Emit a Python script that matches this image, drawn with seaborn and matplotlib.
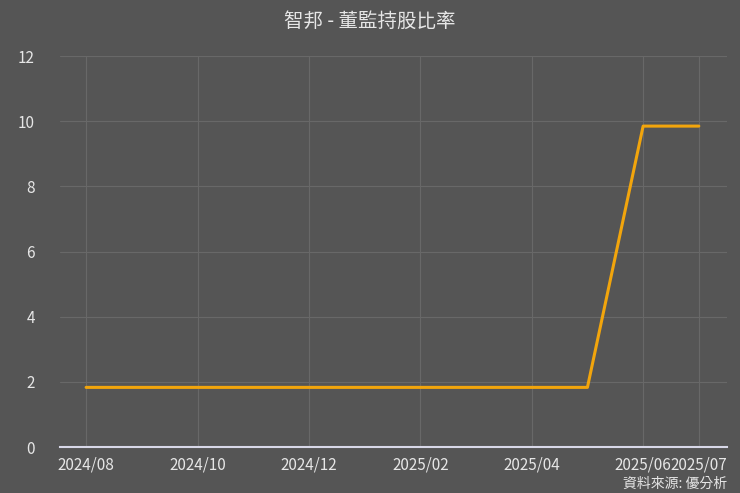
import matplotlib
matplotlib.use("Agg")
import matplotlib.pyplot as plt
import seaborn as sns
import pandas as pd

# monthly data, 2024/08 .. 2025/07
months = ["2024/08", "2024/09", "2024/10", "2024/11", "2024/12", "2025/01",
          "2025/02", "2025/03", "2025/04", "2025/05", "2025/06", "2025/07"]
ratio = [1.83, 1.83, 1.83, 1.83, 1.83, 1.83,
         1.83, 1.83, 1.83, 1.83, 9.85, 9.85]
tick_labels = ["2024/08", "2024/10", "2024/12", "2025/02", "2025/04", "2025/06", "2025/07"]

bg = "#555555"
grid_c = "#686868"
text_c = "#e6e6e6"

sns.set_style("dark")
plt.rcParams['font.family'] = ['Noto Sans CJK TC', 'DejaVu Sans']

df = pd.DataFrame({"month": months, "ratio": ratio})
df["pos"] = range(len(df))

fig = plt.figure(figsize=(7.4, 4.93), dpi=100, facecolor=bg)
ax = fig.add_axes([0.081, 0.0933, 0.901, 0.793])
ax.set_facecolor(bg)

sns.lineplot(data=df, x="pos", y="ratio", ax=ax, color="#f2a50c", linewidth=2.2)

tick_pos = [months.index(t) for t in tick_labels]
ax.set_xticks(tick_pos)
ax.set_xticklabels(tick_labels)
ax.set_xlim(-0.47, 11.5)
ax.set_ylim(0, 12)
ax.set_yticks(range(0, 13, 2))

ax.grid(True, color=grid_c, linewidth=0.8)
ax.set_axisbelow(True)
for s in ["top", "right", "left"]:
    ax.spines[s].set_visible(False)
ax.spines["bottom"].set_color("#d8d8e8")
ax.spines["bottom"].set_linewidth(1.5)

ax.tick_params(axis="both", colors=text_c, labelsize=11, length=0)
ax.tick_params(axis="x", pad=7)
ax.tick_params(axis="y", pad=18)
ax.set_xlabel("")
ax.set_ylabel("")

fig.suptitle("智邦 - 董監持股比率", color=text_c, fontsize=14, y=0.978)
fig.text(0.982, 0.005, "資料來源: 優分析", color=text_c, fontsize=10, ha="right", va="bottom")

fig.savefig("out.png", dpi=100, facecolor=bg)
